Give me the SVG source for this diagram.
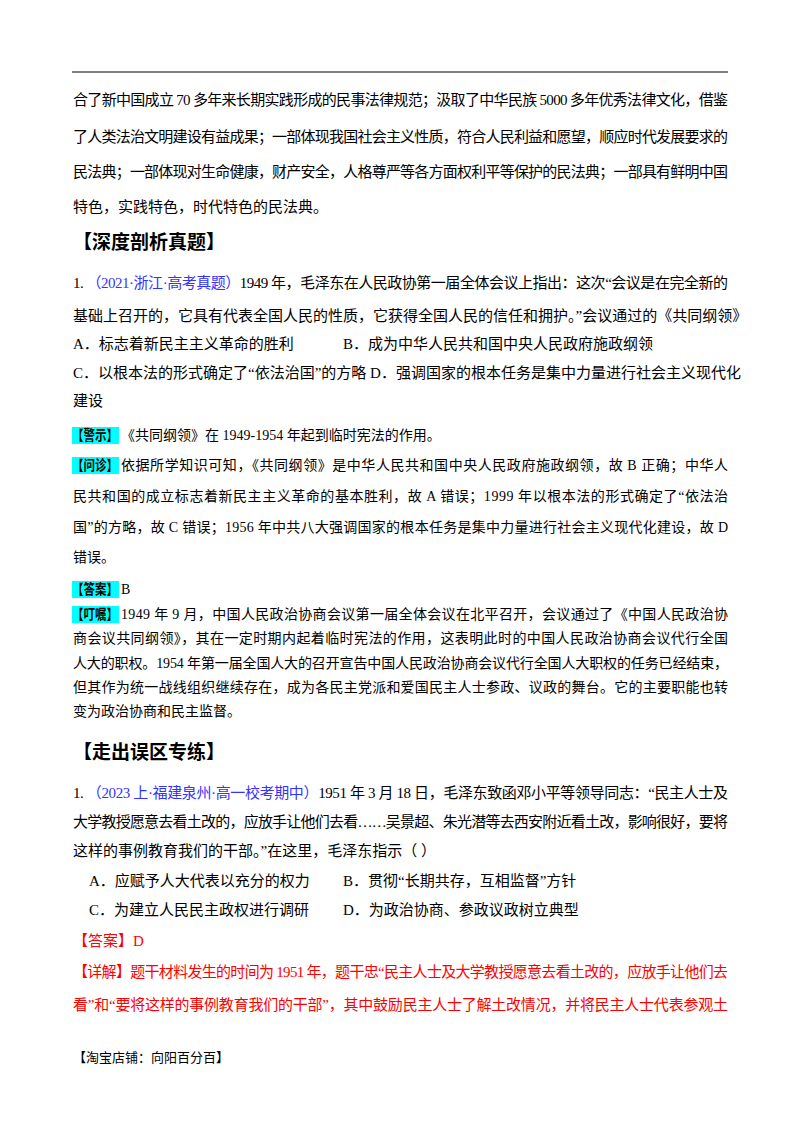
<svg xmlns="http://www.w3.org/2000/svg" width="800" height="1132" viewBox="0 0 800 1132">
<style>
text{font-family:"Liberation Serif","Noto Sans CJK SC",serif;font-size:15px;fill:#000}
.h{font-size:19px;font-weight:bold}
.b{fill:#3333ff}
.r{fill:#ff0000}
.k{font-weight:bold}
.hl{fill:#00ffff}
</style>
<rect width="800" height="1132" fill="#fff"/>
<line x1="72" y1="72" x2="728" y2="72" stroke="#000" stroke-width="1.2"/>
<text x="73" y="105" textLength="655" lengthAdjust="spacing">合了新中国成立 70 多年来长期实践形成的民事法律规范；汲取了中华民族 5000 多年优秀法律文化，借鉴</text>
<text x="73" y="142" textLength="655" lengthAdjust="spacing">了人类法治文明建设有益成果；一部体现我国社会主义性质，符合人民利益和愿望，顺应时代发展要求的</text>
<text x="73" y="177" textLength="655" lengthAdjust="spacing">民法典；一部体现对生命健康，财产安全，人格尊严等各方面权利平等保护的民法典；一部具有鲜明中国</text>
<text x="73" y="212">特色，实践特色，时代特色的民法典。</text>
<text class="h" x="73" y="249">【深度剖析真题】</text>
<text x="73" y="288" textLength="655" lengthAdjust="spacing">1. <tspan class="b">（2021·浙江·高考真题）</tspan>1949 年，毛泽东在人民政协第一届全体会议上指出：这次“会议是在完全新的</text>
<text x="73" y="321">基础上召开的，它具有代表全国人民的性质，它获得全国人民的信任和拥护。”会议通过的《共同纲领》</text>
<text x="73" y="349">A．标志着新民主主义革命的胜利</text>
<text x="343" y="349">B．成为中华人民共和国中央人民政府施政纲领</text>
<text x="73" y="378">C．以根本法的形式确定了“依法治国”的方略 D．强调国家的根本任务是集中力量进行社会主义现代化</text>
<text x="73" y="406">建设</text>
<rect class="hl" x="72" y="427" width="47" height="17"/>
<text class="k" x="72" y="440" style="font-size:14px" textLength="46" lengthAdjust="spacingAndGlyphs">【警示】</text>
<text x="121" y="440" style="font-size:14px">《共同纲领》在 1949-1954 年起到临时宪法的作用。</text>
<rect class="hl" x="72" y="457" width="47" height="17"/>
<text class="k" x="72" y="470" style="font-size:14px" textLength="46" lengthAdjust="spacingAndGlyphs">【问诊】</text>
<text x="121" y="470" style="font-size:14px" textLength="607" lengthAdjust="spacing">依据所学知识可知，《共同纲领》是中华人民共和国中央人民政府施政纲领，故 B 正确；中华人</text>
<text x="73" y="501" style="font-size:14px" textLength="655" lengthAdjust="spacing">民共和国的成立标志着新民主主义革命的基本胜利，故 A 错误；1999 年以根本法的形式确定了“依法治</text>
<text x="73" y="532" style="font-size:14px" textLength="655" lengthAdjust="spacing">国”的方略，故 C 错误；1956 年中共八大强调国家的根本任务是集中力量进行社会主义现代化建设，故 D</text>
<text x="73" y="562" style="font-size:14px">错误。</text>
<rect class="hl" x="72" y="581" width="47" height="17"/>
<text class="k" x="72" y="594" style="font-size:14px" textLength="46" lengthAdjust="spacingAndGlyphs">【答案】</text>
<text x="121" y="594" style="font-size:14px">B</text>
<rect class="hl" x="72" y="606" width="47" height="17"/>
<text class="k" x="72" y="619" style="font-size:14px" textLength="46" lengthAdjust="spacingAndGlyphs">【叮嘱】</text>
<text x="121" y="619" style="font-size:14px" textLength="607" lengthAdjust="spacing">1949 年 9 月，中国人民政治协商会议第一届全体会议在北平召开，会议通过了《中国人民政治协</text>
<text x="73" y="643" style="font-size:14px" textLength="655" lengthAdjust="spacing">商会议共同纲领》，其在一定时期内起着临时宪法的作用，这表明此时的中国人民政治协商会议代行全国</text>
<text x="73" y="668" style="font-size:14px" textLength="655" lengthAdjust="spacing">人大的职权。1954 年第一届全国人大的召开宣告中国人民政治协商会议代行全国人大职权的任务已经结束，</text>
<text x="73" y="692" style="font-size:14px" textLength="655" lengthAdjust="spacing">但其作为统一战线组织继续存在，成为各民主党派和爱国民主人士参政、议政的舞台。它的主要职能也转</text>
<text x="73" y="716" style="font-size:14px">变为政治协商和民主监督。</text>
<text class="h" x="73" y="759">【走出误区专练】</text>
<text x="73" y="798" textLength="655" lengthAdjust="spacing">1. <tspan class="b">（2023 上·福建泉州·高一校考期中）</tspan>1951 年 3 月 18 日，毛泽东致函邓小平等领导同志：“民主人士及</text>
<text x="73" y="827" textLength="655" lengthAdjust="spacing">大学教授愿意去看土改的，应放手让他们去看……吴景超、朱光潜等去西安附近看土改，影响很好，要将</text>
<text x="73" y="856">这样的事例教育我们的干部。”在这里，毛泽东指示（    ）</text>
<text x="89" y="886">A．应赋予人大代表以充分的权力</text>
<text x="294" y="886" transform="translate(49,0)">B．贯彻“长期共存，互相监督”方针</text>
<text x="89" y="915">C．为建立人民民主政权进行调研</text>
<text x="343" y="915">D．为政治协商、参政议政树立典型</text>
<text class="r" x="73" y="946">【答案】D</text>
<text class="r" x="73" y="977" textLength="655" lengthAdjust="spacing">【详解】题干材料发生的时间为 1951 年，题干忠“民主人士及大学教授愿意去看土改的，应放手让他们去</text>
<text class="r" x="73" y="1010" textLength="655" lengthAdjust="spacing">看”和“要将这样的事例教育我们的干部”，其中鼓励民主人士了解土改情况，并将民主人士代表参观土</text>
<text x="73" y="1062" style="font-size:13px">【淘宝店铺：向阳百分百】</text>
</svg>
